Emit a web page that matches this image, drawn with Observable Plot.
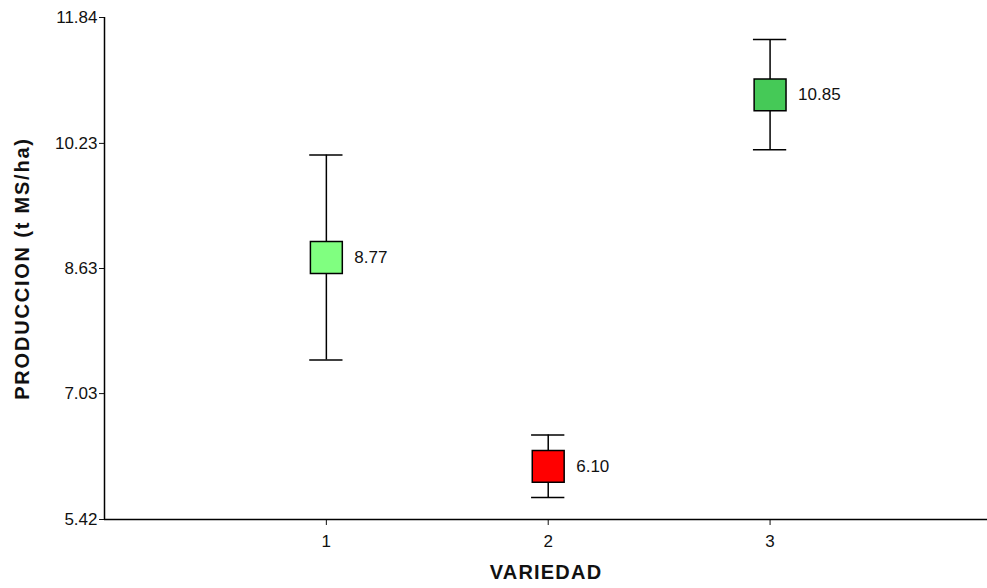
<!DOCTYPE html>
<html>
<head>
<meta charset="utf-8">
<script src="https://cdn.jsdelivr.net/npm/d3@7"></script>
<script src="https://cdn.jsdelivr.net/npm/@observablehq/plot@0.6"></script>
<style>
  html, body { margin: 0; padding: 0; background: #fff; }
  #chart svg { font-family: "Liberation Sans", Arial, sans-serif; }
  g[aria-label="x-axis label"] text, g[aria-label="y-axis label"] text {
    font-weight: bold; font-size: 20px; letter-spacing: 1.2px;
  }
  g[aria-label="y-axis label"] text { letter-spacing: 1.8px; }
</style>
</head>
<body>
<div id="chart"></div>
<script>
const varieties = [1, 2, 3];
const means = [8.77, 6.10, 10.85];
const upper = [10.08, 6.50, 11.56];
const lower = [7.46, 5.70, 10.15];
const colors = ["#80ff80", "#ff0000", "#45c957"];
const yTicks = [5.42, 7.03, 8.63, 10.23, 11.84];
const xTicks = [1, 2, 3];

const data = varieties.map((v, i) => ({
  variedad: v, mean: means[i], hi: upper[i], lo: lower[i], color: colors[i]
}));
const capHalf = 0.075;

const chart = Plot.plot({
  width: 987,
  height: 588,
  marginLeft: 104,
  marginRight: 0,
  marginTop: 17,
  marginBottom: 69,
  style: { fontSize: "17px", color: "#111", background: "#fff" },
  x: { domain: [0, 3.98] },
  y: { domain: [5.42, 11.84] },
  color: { type: "identity" },
  marks: [
    Plot.axisX({
      ticks: xTicks, tickFormat: d => String(d), tickSize: 6, tickPadding: 9,
      label: "VARIEDAD", labelAnchor: "center", labelArrow: "none", labelOffset: 59
    }),
    Plot.axisY({
      ticks: yTicks, tickFormat: d => d.toFixed(2), tickSize: 5, tickPadding: 2,
      label: "PRODUCCION (t MS/ha)", labelAnchor: "center", labelArrow: "none", labelOffset: 90
    }),
    Plot.ruleX([0], { stroke: "#000", strokeWidth: 1.5 }),
    Plot.ruleY([5.42], { stroke: "#000", strokeWidth: 1.5 }),
    Plot.ruleX(data, { x: "variedad", y1: "lo", y2: "hi", stroke: "#000", strokeWidth: 1.5 }),
    Plot.ruleY(data, { y: "hi", x1: d => d.variedad - capHalf, x2: d => d.variedad + capHalf, stroke: "#000", strokeWidth: 1.5 }),
    Plot.ruleY(data, { y: "lo", x1: d => d.variedad - capHalf, x2: d => d.variedad + capHalf, stroke: "#000", strokeWidth: 1.5 }),
    Plot.dot(data, { x: "variedad", y: "mean", symbol: "square", r: 18, fill: "color", stroke: "#000", strokeWidth: 1.5 }),
    Plot.text(data, { x: "variedad", y: "mean", text: d => d.mean.toFixed(2), dx: 28, textAnchor: "start", fontSize: 17, fill: "#111" })
  ]
});
document.getElementById("chart").appendChild(chart);
</script>
</body>
</html>
